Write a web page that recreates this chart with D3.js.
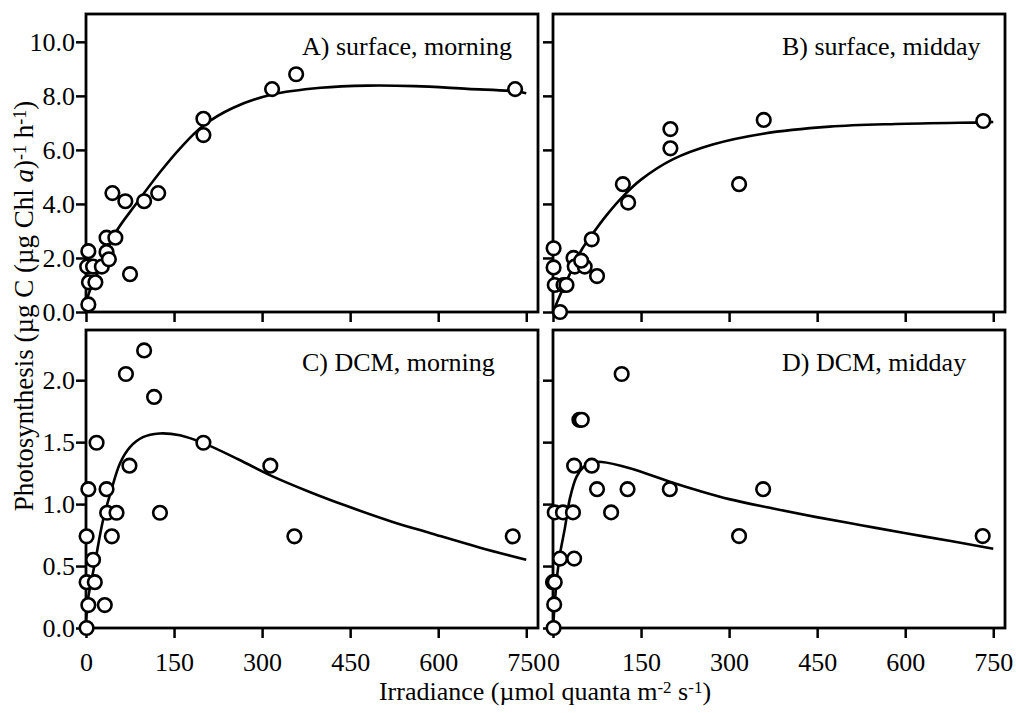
<!DOCTYPE html>
<html>
<head>
<meta charset="utf-8">
<script src="https://cdn.jsdelivr.net/npm/d3@7"></script>
<style>
body { margin: 0; background: #fff; }
svg text { font-family: "Liberation Serif", "Times New Roman", serif; fill: #000; }
</style>
</head>
<body>
<div id="chart"></div>
<script>
// data: irradiance (umol quanta m-2 s-1) and photosynthesis

// A) surface, morning
const irrA  = [4, 2, 12, 27, 5, 16, 4, 35, 39, 35, 50, 75, 45, 67, 99, 123, 200, 200, 317, 358, 731];
const photA = [2.25, 1.68, 1.68, 1.68, 1.1, 1.1, 0.28, 2.22, 1.95, 2.75, 2.75, 1.4, 4.4, 4.1, 4.1, 4.4, 7.15, 6.55, 8.25, 8.8, 8.25];
const fitIrrA = [0, 5, 20, 29, 48, 87, 127, 160, 200, 250, 317, 400, 480, 560, 650, 731, 750];
const fitA    = [0.3, 0.7, 1.45, 1.8, 2.85, 4.05, 5.2, 6.05, 6.9, 7.55, 8.05, 8.3, 8.38, 8.36, 8.26, 8.17, 8.1];

// B) surface, midday
const irrB  = [1, 1, 3, 18, 23, 12, 35, 37, 54, 48, 66, 75, 119, 128, 200, 200, 317, 359, 733];
const photB = [2.36, 1.65, 1.0, 1.0, 1.0, 0, 2.0, 1.68, 1.68, 1.9, 2.69, 1.33, 4.73, 4.05, 6.77, 6.06, 4.73, 7.11, 7.07];
const fitIrrB = [0, 10, 20, 35, 50, 66, 90, 120, 150, 204, 272, 358, 471, 584, 731, 750];
const fitB    = [0, 0.52, 1.0, 1.7, 2.35, 2.85, 3.55, 4.3, 4.9, 5.65, 6.2, 6.6, 6.86, 6.96, 7.02, 7.03];

// C) DCM, morning
const irrC  = [1, 4, 1, 15, 12, 1, 4, 18, 32, 35, 36, 52, 44, 74, 68, 99, 116, 126, 200, 314, 355, 727];
const photC = [0, 0.185, 0.37, 0.37, 0.55, 0.74, 1.12, 1.495, 0.185, 1.12, 0.93, 0.93, 0.74, 1.31, 2.05, 2.24, 1.865, 0.93, 1.495, 1.31, 0.74, 0.74];
const fitIrrC = [0, 4, 15, 29, 43, 58, 75, 97, 125, 160, 201, 260, 315, 380, 441, 520, 587, 670, 750];
const fitC    = [0.05, 0.25, 0.52, 0.87, 1.11, 1.33, 1.46, 1.54, 1.57, 1.555, 1.49, 1.36, 1.23, 1.1, 0.99, 0.86, 0.765, 0.65, 0.55];

// D) DCM, midday
const irrD  = [1, 2, 0, 3, 12, 36, 3, 17, 34, 36, 66, 45, 49, 117, 75, 127, 99, 199, 317, 358, 732];
const photD = [0, 0.19, 0.37, 0.37, 0.56, 0.56, 0.933, 0.933, 0.933, 1.31, 1.31, 1.68, 1.68, 2.05, 1.12, 1.12, 0.933, 1.12, 0.742, 1.12, 0.742];
const fitIrrD = [0, 3, 7, 12, 20, 29, 40, 52, 66, 83, 131, 199, 250, 300, 375, 449, 525, 601, 680, 750];
const fitD    = [0, 0.2, 0.42, 0.6, 0.8, 1.05, 1.22, 1.3, 1.335, 1.34, 1.29, 1.18, 1.105, 1.04, 0.965, 0.895, 0.83, 0.764, 0.7, 0.64];

// ticks and labels
const xTicks = [0, 150, 300, 450, 600, 750];
const yTicksSurface = [0, 2, 4, 6, 8, 10];
const yTicksDcm = [0, 0.5, 1, 1.5, 2];
const panelLabels = ["A) surface, morning", "B) surface, midday", "C) DCM, morning", "D) DCM, midday"];

// layout
const panelW = 452, panelH = 298;
const panels = [
    {irr: irrA, phot: photA, fitIrr: fitIrrA, fit: fitA, label: panelLabels[0], left: 86,  top: 14,  yMax: 11.03, yTicks: yTicksSurface, showY: true,  showX: false, lx: 216},
    {irr: irrB, phot: photB, fitIrr: fitIrrB, fit: fitB, label: panelLabels[1], left: 553, top: 14,  yMax: 11.03, yTicks: yTicksSurface, showY: false, showX: false, lx: 229},
    {irr: irrC, phot: photC, fitIrr: fitIrrC, fit: fitC, label: panelLabels[2], left: 86,  top: 330, yMax: 2.405, yTicks: yTicksDcm,     showY: true,  showX: true,  lx: 216},
    {irr: irrD, phot: photD, fitIrr: fitIrrD, fit: fitD, label: panelLabels[3], left: 553, top: 330, yMax: 2.405, yTicks: yTicksDcm,     showY: false, showX: true,  lx: 229}
];

const svg = d3.select("#chart")
    .append("svg")
    .attr("width", 1016)
    .attr("height", 713);

panels.forEach(p => {
    const g = svg.append("g")
        .attr("transform", "translate(" + p.left + "," + p.top + ")");

    const x = d3.scaleLinear().domain([0, 770]).range([0, panelW]);
    const y = d3.scaleLinear().domain([0, p.yMax]).range([panelH, 0]);

    // y ticks
    const yAxis = d3.axisLeft(y)
        .tickValues(p.yTicks)
        .tickSize(10)
        .tickPadding(1)
        .tickFormat(p.showY ? d3.format(".1f") : "");
    g.append("g").attr("class", "axis").call(yAxis);

    // x ticks
    const xAxis = d3.axisBottom(x)
        .tickValues(xTicks)
        .tickSize(10)
        .tickPadding(15)
        .tickFormat(p.showX ? d3.format("d") : "");
    g.append("g").attr("class", "axis")
        .attr("transform", "translate(0," + panelH + ")")
        .call(xAxis);

    g.selectAll(".axis .domain").remove();
    g.selectAll(".axis line").attr("stroke", "#000").attr("stroke-width", 2.5);
    g.selectAll(".axis text")
        .attr("font-size", 26)
        .attr("font-family", "Liberation Serif")
        .attr("fill", "#000");

    // frame
    g.append("rect")
        .attr("width", panelW)
        .attr("height", panelH)
        .attr("fill", "none")
        .attr("stroke", "#000")
        .attr("stroke-width", 2.8);

    // fitted P-I curve
    const line = d3.line()
        .x(d => x(d[0]))
        .y(d => y(d[1]))
        .curve(d3.curveCatmullRom.alpha(0.5));
    g.append("path")
        .datum(d3.zip(p.fitIrr, p.fit))
        .attr("d", line)
        .attr("fill", "none")
        .attr("stroke", "#000")
        .attr("stroke-width", 2.6);

    // observations
    g.selectAll("circle")
        .data(d3.zip(p.irr, p.phot))
        .join("circle")
        .attr("cx", d => x(d[0]))
        .attr("cy", d => y(d[1]))
        .attr("r", 6.8)
        .attr("fill", "#fff")
        .attr("stroke", "#000")
        .attr("stroke-width", 2.6);

    // panel label
    g.append("text")
        .attr("x", p.lx)
        .attr("y", 41)
        .attr("font-size", 26)
        .text(p.label);
});

// y axis title
const yTitle = svg.append("text")
    .attr("transform", "translate(33,306) rotate(-90)")
    .attr("text-anchor", "middle")
    .attr("font-size", 27);
yTitle.append("tspan").text("Photosynthesis (\u00b5g C (\u00b5g Chl ");
yTitle.append("tspan").attr("font-style", "italic").text("a");
yTitle.append("tspan").text(")");
yTitle.append("tspan").attr("baseline-shift", "40%").attr("font-size", 18).text("-1");
yTitle.append("tspan").text(" h");
yTitle.append("tspan").attr("baseline-shift", "40%").attr("font-size", 18).text("-1");
yTitle.append("tspan").text(")");

// x axis title
const xTitle = svg.append("text")
    .attr("x", 545)
    .attr("y", 700)
    .attr("text-anchor", "middle")
    .attr("font-size", 26);
xTitle.append("tspan").text("Irradiance (\u00b5mol quanta m");
xTitle.append("tspan").attr("baseline-shift", "40%").attr("font-size", 17).text("-2");
xTitle.append("tspan").text(" s");
xTitle.append("tspan").attr("baseline-shift", "40%").attr("font-size", 17).text("-1");
xTitle.append("tspan").text(")");
</script>
</body>
</html>
